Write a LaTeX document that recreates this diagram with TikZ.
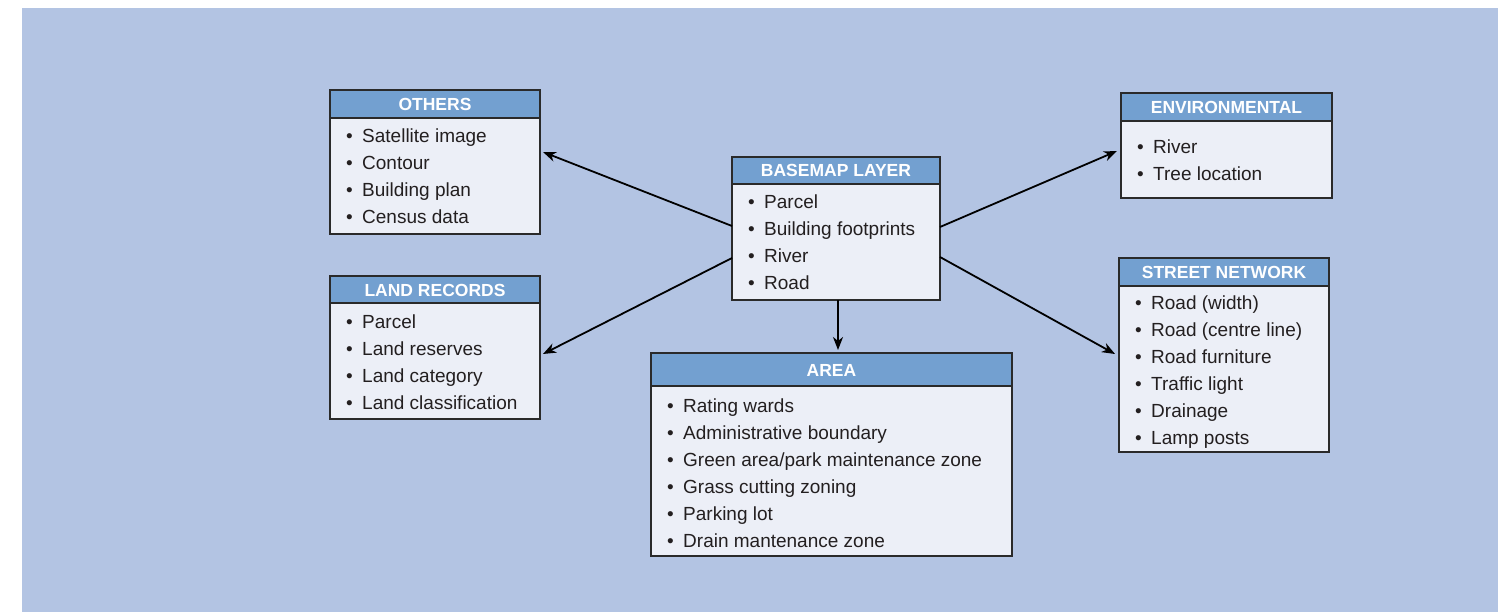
\documentclass[tikz,border=0pt]{standalone}
\usepackage{fontspec}
\setmainfont{Liberation Sans}
\usetikzlibrary{arrows.meta,calc}
\definecolor{bgblue}{HTML}{B3C4E3}
\definecolor{hdrblue}{HTML}{73A0D0}
\definecolor{bodyfill}{HTML}{ECEFF7}
\definecolor{txt}{HTML}{231F20}
\definecolor{edge}{HTML}{2A2A2A}
\tikzset{
  box/.style={rectangle, inner sep=0pt, outer sep=0pt, fill=bodyfill},
  hdrtext/.style={anchor=base, inner sep=0pt, text=white, font=\fontsize{17.5pt}{20pt}\selectfont\bfseries},
  item/.style={anchor=base west, inner sep=0pt, text=txt, font=\fontsize{19pt}{22pt}\selectfont},
  arr/.style={line width=1.8pt, draw=black, -{Stealth[length=13pt,width=10pt,inset=4pt]}},
}
\newcommand{\mkbox}[6]{% name, x1, y1, x2, y2, header bottom
  \node[box, minimum width={(#4-#2)*1pt}, minimum height={(#5-#3)*1pt}] (#1) at ({(#2+#4)/2},{(#3+#5)/2}) {};
  \fill[hdrblue] (#2,#3) rectangle (#4,#6);
  \draw[edge, line width=1.2pt] (#2,#6) -- (#4,#6);
  \draw[edge, line width=1.2pt] (#1.north west) rectangle (#1.south east);
}
\newcommand{\bul}[3]{\node[item] at (#1,#2) {\makebox[16pt][l]{\textbullet}#3};}
\begin{document}
\begin{tikzpicture}[x=1pt,y=-1pt]
\useasboundingbox (0,0) rectangle (1512,612);
\fill[bgblue] (22,8) rectangle (1498,612);

% OTHERS
\mkbox{others}{330}{90}{540}{234}{118}
\node[hdrtext] (othersh) at (435,110.5) {OTHERS};
\bul{346}{143}{Satellite image}
\bul{346}{170}{Contour}
\bul{346}{197}{Building plan}
\bul{346}{224}{Census data}

% LAND RECORDS
\mkbox{land}{330}{276}{540}{419}{303}
\node[hdrtext] (landh) at (435,296.5) {LAND RECORDS};
\bul{346}{328}{Parcel}
\bul{346}{355}{Land reserves}
\bul{346}{382}{Land category}
\bul{346}{409}{Land classification}

% BASEMAP
\mkbox{base}{732}{157}{940}{300}{184}
\node[hdrtext] (baseh) at (836,176.5) {BASEMAP LAYER};
\bul{748}{209}{Parcel}
\bul{748}{236}{Building footprints}
\bul{748}{263}{River}
\bul{748}{290}{Road}

% AREA
\mkbox{area}{651}{353}{1012}{556}{386}
\node[hdrtext] (areah) at (831.5,376.5) {AREA};
\bul{667}{412}{Rating wards}
\bul{667}{439}{Administrative boundary}
\bul{667}{466}{Green area/park maintenance zone}
\bul{667}{493}{Grass cutting zoning}
\bul{667}{520}{Parking lot}
\bul{667}{547}{Drain mantenance zone}

% ENVIRONMENTAL
\mkbox{env}{1121}{93}{1332}{198}{121}
\node[hdrtext] (envh) at (1226.5,113.5) {ENVIRONMENTAL};
\bul{1137}{154}{River}
\bul{1137}{181}{Tree location}

% STREET NETWORK
\mkbox{street}{1119}{258}{1329}{452}{286}
\node[hdrtext] (streeth) at (1224,278.5) {STREET NETWORK};
\bul{1135}{309}{Road (width)}
\bul{1135}{336}{Road (centre line)}
\bul{1135}{363}{Road furniture}
\bul{1135}{390}{Traffic light}
\bul{1135}{417}{Drainage}
\bul{1135}{444}{Lamp posts}

% arrows
\draw[arr] ([yshift=2.5pt]base.west) -- ([xshift=3pt,yshift=10pt]others.east);
\draw[arr] ([yshift=-29.5pt]base.west) -- ([xshift=3pt,yshift=-6.5pt]land.east);
\draw[arr] ([yshift=1.5pt]base.east) -- ([xshift=-4pt,yshift=-5.5pt]env.west);
\draw[arr] ([yshift=-28.5pt]base.east) -- ([xshift=-4pt,yshift=1pt]street.west);
\draw[arr] ([xshift=2pt]base.south) -- ([xshift=2pt,yshift=3pt]base.south |- area.north);
\end{tikzpicture}
\end{document}
